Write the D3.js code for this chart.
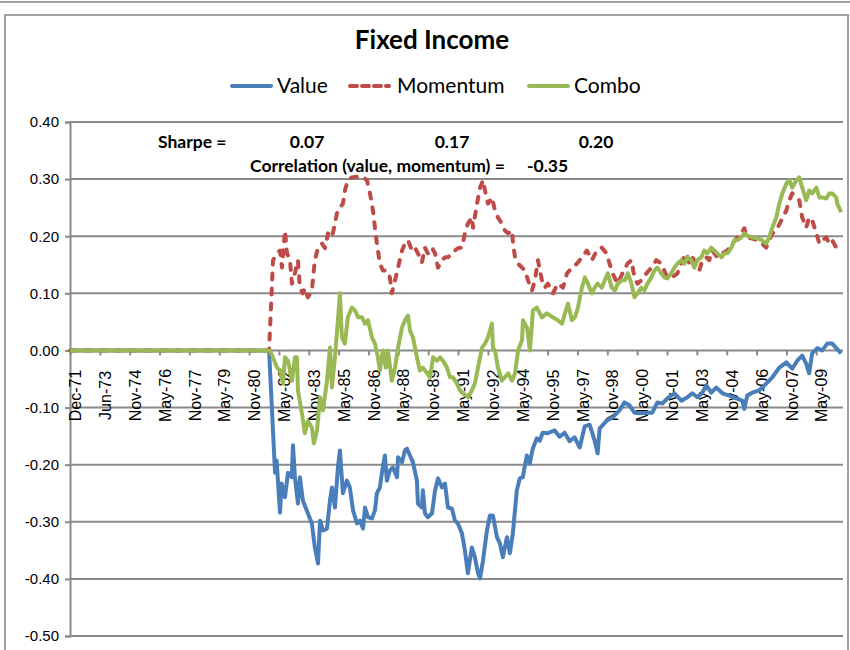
<!DOCTYPE html>
<html>
<head>
<meta charset="utf-8">
<script src="https://cdn.jsdelivr.net/npm/d3@7"></script>
<style>
body { margin: 0; background: #fff; }
</style>
</head>
<body>
<div id="chart"></div>
<script>
// Chart values (decimal year, return)
const xLabels = ["Dec-71","Jun-73","Nov-74","May-76","Nov-77","May-79","Nov-80","May-82","Nov-83",
  "May-85","Nov-86","May-88","Nov-89","May-91","Nov-92","May-94","Nov-95","May-97","Nov-98",
  "May-00","Nov-01","May-03","Nov-04","May-06","Nov-07","May-09"];
const yTicks = [0.4, 0.3, 0.2, 0.1, 0, -0.1, -0.2, -0.3, -0.4, -0.5];

const valueSeries = [
  [1971.92,0],[1981.92,0],[1982.22,-0.214],[1982.30,-0.193],[1982.47,-0.284],[1982.55,-0.233],
  [1982.72,-0.257],[1982.87,-0.214],[1983.06,-0.222],[1983.12,-0.166],[1983.22,-0.222],[1983.37,-0.268],
  [1983.47,-0.222],[1983.62,-0.263],[1983.87,-0.285],[1984.07,-0.303],[1984.22,-0.345],[1984.38,-0.373],
  [1984.48,-0.298],[1984.63,-0.315],[1984.83,-0.312],[1984.98,-0.263],[1985.08,-0.240],[1985.23,-0.275],
  [1985.38,-0.205],[1985.48,-0.175],[1985.63,-0.250],[1985.83,-0.228],[1985.98,-0.240],[1986.14,-0.280],
  [1986.34,-0.303],[1986.49,-0.298],[1986.64,-0.312],[1986.74,-0.275],[1986.89,-0.292],[1987.09,-0.294],
  [1987.24,-0.280],[1987.34,-0.250],[1987.49,-0.240],[1987.59,-0.214],[1987.74,-0.184],[1987.84,-0.228],
  [1987.99,-0.210],[1988.14,-0.205],[1988.35,-0.222],[1988.40,-0.187],[1988.60,-0.196],[1988.75,-0.175],
  [1988.85,-0.172],[1989.00,-0.184],[1989.15,-0.196],[1989.35,-0.228],[1989.40,-0.268],[1989.60,-0.275],
  [1989.65,-0.245],[1989.75,-0.285],[1989.90,-0.292],[1990.11,-0.285],[1990.26,-0.245],[1990.41,-0.224],
  [1990.61,-0.240],[1990.76,-0.233],[1990.91,-0.275],[1991.11,-0.277],[1991.26,-0.298],[1991.41,-0.303],
  [1991.61,-0.320],[1991.76,-0.350],[1991.91,-0.390],[1992.11,-0.345],[1992.26,-0.362],[1992.42,-0.390],
  [1992.52,-0.399],[1992.67,-0.368],[1992.87,-0.315],[1993.02,-0.289],[1993.17,-0.289],[1993.37,-0.327],
  [1993.52,-0.338],[1993.67,-0.362],[1993.87,-0.327],[1994.02,-0.355],[1994.17,-0.320],[1994.37,-0.245],
  [1994.52,-0.224],[1994.67,-0.222],[1994.87,-0.184],[1995.02,-0.198],[1995.17,-0.172],[1995.37,-0.154],
  [1995.52,-0.158],[1995.67,-0.144],[1995.92,-0.145],[1996.27,-0.140],[1996.52,-0.151],[1996.77,-0.144],
  [1997.02,-0.159],[1997.27,-0.152],[1997.53,-0.170],[1997.78,-0.133],[1998.03,-0.130],[1998.28,-0.158],
  [1998.43,-0.180],[1998.53,-0.137],[1998.88,-0.123],[1999.18,-0.117],[1999.53,-0.105],[1999.78,-0.091],
  [2000.03,-0.096],[2000.28,-0.109],[2000.53,-0.110],[2000.88,-0.109],[2001.18,-0.109],[2001.43,-0.091],
  [2001.68,-0.093],[2001.93,-0.084],[2002.29,-0.075],[2002.64,-0.088],[2002.94,-0.082],[2003.19,-0.075],
  [2003.44,-0.082],[2003.69,-0.074],[2003.89,-0.061],[2004.14,-0.074],[2004.39,-0.065],[2004.70,-0.075],
  [2005.05,-0.079],[2005.40,-0.084],[2005.70,-0.088],[2005.80,-0.102],[2005.95,-0.079],[2006.20,-0.074],
  [2006.55,-0.070],[2006.90,-0.058],[2007.21,-0.047],[2007.56,-0.030],[2007.91,-0.021],[2008.21,-0.032],
  [2008.46,-0.018],[2008.71,-0.009],[2008.91,-0.023],[2009.06,-0.040],[2009.21,-0.005],[2009.47,0.004],
  [2009.72,0.000],[2009.97,0.012],[2010.22,0.012],[2010.42,0.004],[2010.67,-0.005]
];

const momentumSeries = [
  [1971.92,0],[1981.92,0],[1982.12,0.158],[1982.32,0.170],[1982.47,0.175],[1982.57,0.145],[1982.72,0.210],
  [1982.82,0.170],[1982.97,0.158],[1983.07,0.117],[1983.22,0.135],[1983.37,0.158],[1983.47,0.110],
  [1983.62,0.100],[1983.72,0.109],[1983.87,0.093],[1984.07,0.105],[1984.22,0.158],[1984.38,0.180],
  [1984.58,0.187],[1984.73,0.179],[1984.88,0.205],[1985.08,0.198],[1985.23,0.222],[1985.33,0.240],
  [1985.48,0.250],[1985.63,0.257],[1985.73,0.280],[1985.88,0.298],[1986.08,0.303],[1986.49,0.305],
  [1986.74,0.301],[1986.84,0.298],[1986.99,0.275],[1987.14,0.245],[1987.24,0.215],[1987.34,0.187],
  [1987.49,0.152],[1987.64,0.140],[1987.84,0.140],[1987.99,0.128],[1988.09,0.100],[1988.25,0.123],
  [1988.40,0.145],[1988.60,0.175],[1988.75,0.187],[1988.90,0.193],[1989.10,0.175],[1989.25,0.180],
  [1989.40,0.170],[1989.60,0.154],[1989.75,0.180],[1989.90,0.170],[1990.11,0.180],[1990.26,0.170],
  [1990.41,0.145],[1990.61,0.158],[1990.76,0.163],[1990.91,0.163],[1991.11,0.170],[1991.26,0.175],
  [1991.41,0.179],[1991.61,0.180],[1991.76,0.205],[1991.91,0.222],[1992.11,0.233],[1992.17,0.215],
  [1992.37,0.257],[1992.52,0.285],[1992.67,0.298],[1992.77,0.280],[1992.92,0.257],[1993.12,0.268],
  [1993.27,0.245],[1993.42,0.233],[1993.62,0.222],[1993.77,0.210],[1993.93,0.205],[1994.13,0.210],
  [1994.18,0.187],[1994.28,0.163],[1994.43,0.152],[1994.63,0.145],[1994.78,0.140],[1994.93,0.123],
  [1995.13,0.105],[1995.28,0.123],[1995.43,0.158],[1995.63,0.123],[1995.78,0.110],[1995.93,0.117],
  [1996.18,0.100],[1996.43,0.117],[1996.69,0.110],[1996.89,0.135],[1997.14,0.145],[1997.39,0.152],
  [1997.64,0.163],[1997.89,0.175],[1998.14,0.158],[1998.39,0.175],[1998.64,0.180],[1998.88,0.170],
  [1999.03,0.152],[1999.18,0.135],[1999.43,0.117],[1999.68,0.135],[1999.93,0.152],[2000.13,0.158],
  [2000.28,0.128],[2000.43,0.117],[2000.63,0.123],[2000.88,0.135],[2001.13,0.145],[2001.38,0.158],
  [2001.63,0.152],[2001.78,0.140],[2001.93,0.128],[2002.18,0.128],[2002.44,0.135],[2002.69,0.158],
  [2002.89,0.170],[2003.04,0.152],[2003.19,0.163],[2003.39,0.152],[2003.54,0.140],[2003.69,0.158],
  [2003.89,0.163],[2004.04,0.158],[2004.19,0.175],[2004.44,0.163],[2004.70,0.170],[2004.95,0.175],
  [2005.20,0.187],[2005.45,0.198],[2005.65,0.205],[2005.80,0.214],[2005.95,0.198],[2006.20,0.196],
  [2006.45,0.193],[2006.70,0.187],[2006.90,0.180],[2007.05,0.193],[2007.21,0.205],[2007.41,0.210],
  [2007.66,0.228],[2007.91,0.245],[2008.06,0.263],[2008.21,0.275],[2008.41,0.268],[2008.56,0.263],
  [2008.71,0.233],[2008.91,0.215],[2009.06,0.233],[2009.21,0.228],[2009.42,0.205],[2009.57,0.187],
  [2009.72,0.193],[2009.92,0.198],[2010.07,0.187],[2010.22,0.193],[2010.42,0.180],[2010.57,0.170]
];

const comboSeries = [
  [1971.92,0],[1981.97,0],[1982.32,-0.030],[1982.47,-0.035],[1982.62,-0.058],[1982.72,-0.012],
  [1982.87,-0.018],[1983.07,-0.053],[1983.22,-0.012],[1983.32,-0.012],[1983.37,-0.070],[1983.57,-0.110],
  [1983.72,-0.145],[1983.87,-0.123],[1984.07,-0.135],[1984.17,-0.163],[1984.33,-0.140],[1984.48,-0.082],
  [1984.63,-0.105],[1984.83,-0.053],[1984.98,0.005],[1985.08,-0.065],[1985.23,-0.012],[1985.38,0.053],
  [1985.48,0.100],[1985.58,0.023],[1985.73,0.012],[1985.88,0.058],[1986.08,0.075],[1986.24,0.070],
  [1986.39,0.058],[1986.59,0.058],[1986.74,0.047],[1986.89,0.053],[1987.09,0.023],[1987.24,0.012],
  [1987.39,-0.012],[1987.49,-0.035],[1987.64,0.000],[1987.79,-0.030],[1987.89,0.000],[1988.09,-0.053],
  [1988.25,-0.030],[1988.40,0.005],[1988.60,0.040],[1988.75,0.053],[1988.90,0.061],[1989.00,0.035],
  [1989.15,0.023],[1989.35,-0.012],[1989.50,-0.035],[1989.65,-0.030],[1989.86,-0.040],[1990.01,-0.047],
  [1990.16,-0.012],[1990.36,-0.018],[1990.51,-0.012],[1990.66,-0.018],[1990.86,-0.030],[1991.01,-0.047],
  [1991.16,-0.047],[1991.36,-0.058],[1991.51,-0.070],[1991.66,-0.075],[1991.91,-0.082],[1992.11,-0.070],
  [1992.26,-0.058],[1992.42,-0.030],[1992.62,0.005],[1992.77,0.012],[1992.92,0.023],[1993.12,0.047],
  [1993.17,0.005],[1993.27,0.000],[1993.42,-0.030],[1993.62,-0.053],[1993.77,-0.047],[1993.93,-0.040],
  [1994.13,-0.053],[1994.28,-0.040],[1994.43,0.000],[1994.63,0.018],[1994.68,0.053],[1994.88,0.040],
  [1995.03,0.000],[1995.18,0.070],[1995.38,0.075],[1995.63,0.058],[1995.88,0.065],[1996.18,0.058],
  [1996.43,0.053],[1996.64,0.047],[1996.79,0.065],[1996.94,0.082],[1997.14,0.053],[1997.29,0.058],
  [1997.44,0.075],[1997.64,0.110],[1997.79,0.128],[1997.94,0.117],[1998.14,0.100],[1998.28,0.110],
  [1998.43,0.117],[1998.64,0.110],[1998.79,0.123],[1998.94,0.135],[1999.14,0.110],[1999.30,0.105],
  [1999.45,0.117],[1999.65,0.123],[1999.80,0.123],[1999.95,0.135],[2000.13,0.117],[2000.28,0.093],
  [2000.43,0.100],[2000.63,0.110],[2000.78,0.105],[2000.93,0.117],[2001.13,0.128],[2001.28,0.140],
  [2001.43,0.145],[2001.63,0.135],[2001.78,0.128],[2001.93,0.126],[2002.13,0.135],[2002.29,0.145],
  [2002.44,0.152],[2002.64,0.158],[2002.79,0.152],[2002.94,0.163],[2003.14,0.158],[2003.29,0.145],
  [2003.44,0.158],[2003.64,0.163],[2003.79,0.175],[2003.94,0.170],[2004.14,0.180],[2004.29,0.175],
  [2004.44,0.170],[2004.65,0.163],[2004.80,0.170],[2004.95,0.170],[2005.15,0.180],[2005.30,0.193],
  [2005.45,0.193],[2005.65,0.198],[2005.80,0.205],[2005.95,0.201],[2006.20,0.198],[2006.45,0.196],
  [2006.70,0.193],[2006.90,0.187],[2007.05,0.198],[2007.21,0.215],[2007.41,0.233],[2007.56,0.257],
  [2007.71,0.275],[2007.91,0.292],[2008.06,0.298],[2008.21,0.285],[2008.41,0.298],[2008.56,0.303],
  [2008.71,0.285],[2008.91,0.263],[2009.06,0.280],[2009.21,0.275],[2009.42,0.285],[2009.57,0.268],
  [2009.72,0.268],[2009.92,0.266],[2010.07,0.275],[2010.22,0.275],[2010.42,0.268],[2010.47,0.257],
  [2010.67,0.242]
];

const sharpeValues = ["0.07", "0.17", "0.20"];
const correlation = "-0.35";

// Layout
const width = 850, height = 650;
const startYear = 1971.917, labelStep = 1.5;
const axisFont = "'Liberation Sans', Arial, sans-serif";
const textFont = "Lato, sans-serif";

const svg = d3.select("#chart")
  .append("svg")
  .attr("width", width)
  .attr("height", height);

// outer chart frame
svg.append("line").attr("x1", 0).attr("x2", width).attr("y1", 2).attr("y2", 2)
  .attr("stroke", "#a0a0a0").attr("stroke-width", 2);
svg.append("rect")
  .attr("x", 5).attr("y", 15).attr("width", 843).attr("height", 660)
  .attr("fill", "none").attr("stroke", "#a0a0a0").attr("stroke-width", 2);

// Scales
const xScale = d3.scaleLinear()
  .domain([startYear, 2010.76])
  .range([70, 843]);

const yScale = d3.scaleLinear()
  .domain([-0.5, 0.4])
  .range([636, 122]);

// Gridlines
svg.append("g")
  .selectAll("line")
  .data(yTicks)
  .enter()
  .append("line")
  .attr("x1", 70).attr("x2", 843)
  .attr("y1", d => yScale(d)).attr("y2", d => yScale(d))
  .attr("stroke", "#8a8a8a")
  .attr("stroke-width", 2);

// Y axis
const fmt = d3.format(".2f");
const yAxis = svg.append("g")
  .attr("transform", "translate(70,0)")
  .call(d3.axisLeft(yScale).tickValues(yTicks)
    .tickFormat(d => fmt(d).replace("\u2212", "-"))
    .tickSize(5).tickPadding(6));
yAxis.select(".domain").attr("stroke", "#8a8a8a").attr("stroke-width", 2);
yAxis.selectAll(".tick line").attr("stroke", "#8a8a8a").attr("stroke-width", 2);
yAxis.selectAll(".tick text")
  .attr("fill", "#000")
  .style("font-family", axisFont)
  .style("font-size", "15px");

// X axis (crosses at zero), labels centred in a band under the zero line
const tickYears = xLabels.map((d, i) => startYear + i * labelStep);
const xAxis = svg.append("g")
  .attr("transform", `translate(0,${yScale(0)})`)
  .call(d3.axisBottom(xScale).tickValues(tickYears).tickFormat((d, i) => xLabels[i]).tickSize(5));
xAxis.select(".domain").remove();
xAxis.selectAll(".tick line").attr("stroke", "#8a8a8a").attr("stroke-width", 2);
xAxis.selectAll(".tick text")
  .attr("fill", "#000")
  .style("font-family", axisFont)
  .style("font-size", "16px")
  .attr("text-anchor", "middle")
  .attr("x", 0).attr("y", 0).attr("dy", "0.35em")
  .attr("transform", "translate(5,45) rotate(-90)");

// Lines
const line = d3.line()
  .x(d => xScale(d[0]))
  .y(d => yScale(d[1]));

svg.append("path")
  .datum(valueSeries)
  .attr("d", line)
  .attr("fill", "none")
  .attr("stroke", "#4a7ebb")
  .attr("stroke-width", 4)
  .attr("stroke-linejoin", "round");

svg.append("path")
  .datum(momentumSeries)
  .attr("d", line)
  .attr("fill", "none")
  .attr("stroke", "#be4b48")
  .attr("stroke-width", 4)
  .attr("stroke-linecap", "round")
  .attr("stroke-dasharray", "6,9")
  .attr("stroke-linejoin", "round");

svg.append("path")
  .datum(comboSeries)
  .attr("d", line)
  .attr("fill", "none")
  .attr("stroke", "#98b954")
  .attr("stroke-width", 4)
  .attr("stroke-linejoin", "round");

// Title
svg.append("text")
  .attr("x", 432).attr("y", 49)
  .attr("text-anchor", "middle")
  .style("font-family", textFont)
  .style("font-weight", "bold")
  .style("font-size", "26px")
  .text("Fixed Income");

// Legend
const legend = [
  { name: "Value", color: "#4a7ebb", dash: null, x: 230 },
  { name: "Momentum", color: "#be4b48", dash: "7,5", x: 348 },
  { name: "Combo", color: "#98b954", dash: null, x: 527 }
];
const lg = svg.append("g");
legend.forEach(d => {
  lg.append("line")
    .attr("x1", d.x + 2).attr("x2", d.x + 41)
    .attr("y1", 86).attr("y2", 86)
    .attr("stroke", d.color)
    .attr("stroke-width", 4)
    .attr("stroke-linecap", "round")
    .attr("stroke-dasharray", d.dash);
  lg.append("text")
    .attr("x", d.x + 47 + (d.dash ? 2 : 0)).attr("y", 93)
    .style("font-family", textFont)
    .style("font-size", "21px")
    .text(d.name);
});

// Annotation text
const note = svg.append("g")
  .style("font-family", textFont)
  .style("font-weight", "bold")
  .style("font-size", "17.5px");
note.append("text").attr("x", 158).attr("y", 148).text("Sharpe =");
[307, 452, 596].forEach((cx, i) => {
  note.append("text").attr("x", cx).attr("y", 148).attr("text-anchor", "middle").text(sharpeValues[i]);
});
note.append("text").attr("x", 250).attr("y", 172).text("Correlation (value, momentum) =");
note.append("text").attr("x", 527).attr("y", 172).text(correlation);
</script>
</body>
</html>
